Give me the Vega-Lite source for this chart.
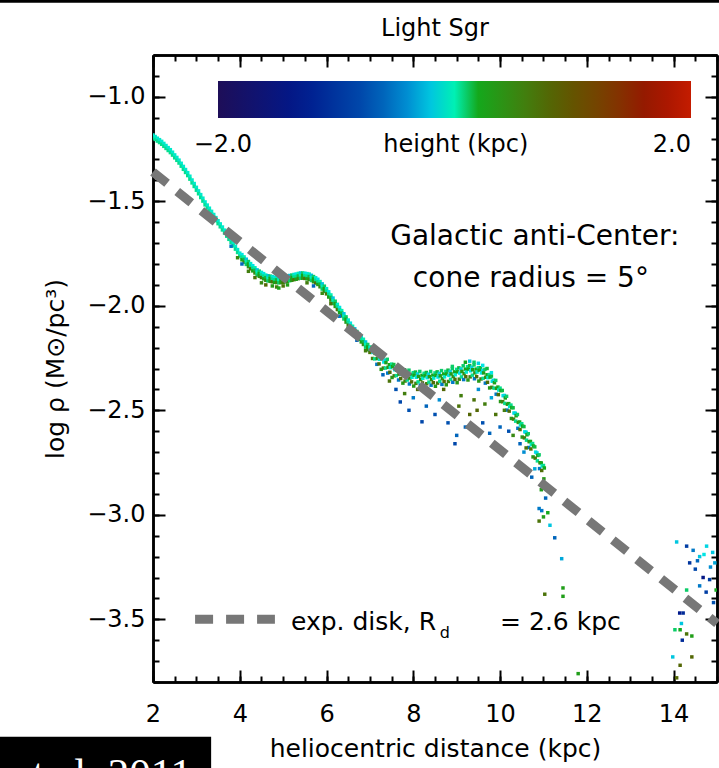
{
"$schema":"https://vega.github.io/schema/vega-lite/v6.json",
"width":564,"height":627,
"autosize":{"type":"none"},
"padding":{"left":153,"top":55,"right":2,"bottom":86},
"background":"white",
"config":{"view":{"stroke":null},"font":"DejaVu Sans",
"axis":{"domainColor":"black","domainWidth":2.5,"tickColor":"black","tickWidth":2,"labelColor":"black","labelFontSize":24,"titleColor":"black","titleFontSize":25,"titleFontWeight":"normal","grid":false,"labelFlush":false,"labelOverlap":false}},
"datasets":{
"disk":[{"x":2,"y":-1.36},{"x":15,"y":-3.52}],
"pts":[
{"x":2,"y":-1.183,"h":-0.05},{"x":2,"y":-1.197,"h":0.05},
{"x":2.05,"y":-1.19,"h":-0.05},{"x":2.05,"y":-1.204,"h":0.05},
{"x":2.1,"y":-1.198,"h":-0.05},{"x":2.1,"y":-1.212,"h":0.05},
{"x":2.15,"y":-1.205,"h":-0.05},{"x":2.15,"y":-1.219,"h":0.05},
{"x":2.2,"y":-1.213,"h":-0.05},{"x":2.2,"y":-1.227,"h":0.05},
{"x":2.25,"y":-1.223,"h":-0.05},{"x":2.25,"y":-1.237,"h":0.05},
{"x":2.3,"y":-1.233,"h":-0.05},{"x":2.3,"y":-1.247,"h":0.05},
{"x":2.35,"y":-1.243,"h":-0.05},{"x":2.35,"y":-1.257,"h":0.05},
{"x":2.4,"y":-1.253,"h":-0.05},{"x":2.4,"y":-1.267,"h":0.05},
{"x":2.45,"y":-1.265,"h":-0.05},{"x":2.45,"y":-1.279,"h":0.05},
{"x":2.5,"y":-1.278,"h":-0.05},{"x":2.5,"y":-1.292,"h":0.05},
{"x":2.55,"y":-1.29,"h":-0.05},{"x":2.55,"y":-1.304,"h":0.05},
{"x":2.6,"y":-1.303,"h":-0.05},{"x":2.6,"y":-1.317,"h":0.05},
{"x":2.65,"y":-1.318,"h":-0.05},{"x":2.65,"y":-1.332,"h":0.05},
{"x":2.7,"y":-1.333,"h":-0.05},{"x":2.7,"y":-1.347,"h":0.05},
{"x":2.75,"y":-1.348,"h":-0.05},{"x":2.75,"y":-1.362,"h":0.05},
{"x":2.8,"y":-1.363,"h":-0.05},{"x":2.8,"y":-1.377,"h":0.05},
{"x":2.85,"y":-1.38,"h":-0.05},{"x":2.85,"y":-1.394,"h":0.05},
{"x":2.9,"y":-1.398,"h":-0.05},{"x":2.9,"y":-1.412,"h":0.05},
{"x":2.95,"y":-1.415,"h":-0.05},{"x":2.95,"y":-1.429,"h":0.05},
{"x":3,"y":-1.433,"h":-0.05},{"x":3,"y":-1.447,"h":0.05},
{"x":3.05,"y":-1.45,"h":-0.05},{"x":3.05,"y":-1.464,"h":0.05},
{"x":3.1,"y":-1.468,"h":-0.05},{"x":3.1,"y":-1.482,"h":0.05},
{"x":3.15,"y":-1.485,"h":-0.05},{"x":3.15,"y":-1.499,"h":0.05},
{"x":3.2,"y":-1.503,"h":-0.05},{"x":3.2,"y":-1.517,"h":0.05},
{"x":3.25,"y":-1.518,"h":-0.05},{"x":3.25,"y":-1.532,"h":0.05},
{"x":3.3,"y":-1.533,"h":-0.05},{"x":3.3,"y":-1.547,"h":0.05},
{"x":3.35,"y":-1.548,"h":-0.05},{"x":3.35,"y":-1.562,"h":0.05},
{"x":3.4,"y":-1.563,"h":-0.05},{"x":3.4,"y":-1.577,"h":0.05},
{"x":3.45,"y":-1.578,"h":-0.05},{"x":3.45,"y":-1.592,"h":0.05},
{"x":3.5,"y":-1.593,"h":-0.05},{"x":3.5,"y":-1.607,"h":0.05},
{"x":3.55,"y":-1.608,"h":-0.05},{"x":3.55,"y":-1.622,"h":0.05},
{"x":3.6,"y":-1.623,"h":-0.05},{"x":3.6,"y":-1.637,"h":0.05},
{"x":3.65,"y":-1.638,"h":-0.05},{"x":3.65,"y":-1.652,"h":0.05},
{"x":3.7,"y":-1.653,"h":-0.05},{"x":3.7,"y":-1.667,"h":0.05},
{"x":3.75,"y":-1.668,"h":-0.05},{"x":3.75,"y":-1.682,"h":0.05},
{"x":3.8,"y":-1.683,"h":-0.05},{"x":3.8,"y":-1.697,"h":0.05},
{"x":3.85,"y":-1.699,"h":-0.05},{"x":3.85,"y":-1.713,"h":0.05},
{"x":3.9,"y":-1.715,"h":-0.05},{"x":3.9,"y":-1.729,"h":0.05},
{"x":3.95,"y":-1.731,"h":-0.05},{"x":3.95,"y":-1.745,"h":0.05},
{"x":4,"y":-1.748,"h":-0.05},{"x":4,"y":-1.762,"h":0.05},
{"x":4.05,"y":-1.755,"h":-0.1},{"x":4.05,"y":-1.767,"h":0.05},{"x":4.05,"y":-1.78,"h":0.25},
{"x":4.1,"y":-1.766,"h":0},{"x":4.1,"y":-1.778,"h":0.15},{"x":4.1,"y":-1.791,"h":0.5},
{"x":4.15,"y":-1.777,"h":-0.2},{"x":4.15,"y":-1.789,"h":0},{"x":4.15,"y":-1.802,"h":0.1},
{"x":4.2,"y":-1.788,"h":0.1},{"x":4.2,"y":-1.8,"h":0.2},{"x":4.2,"y":-1.813,"h":0.35},
{"x":4.25,"y":-1.798,"h":-0.05},{"x":4.25,"y":-1.81,"h":0.05},{"x":4.25,"y":-1.823,"h":0.7},
{"x":4.3,"y":-1.808,"h":-0.1},{"x":4.3,"y":-1.82,"h":0.05},{"x":4.3,"y":-1.833,"h":0.25},
{"x":4.35,"y":-1.818,"h":0},{"x":4.35,"y":-1.83,"h":0.15},{"x":4.35,"y":-1.843,"h":0.5},
{"x":4.4,"y":-1.828,"h":-0.2},{"x":4.4,"y":-1.84,"h":0},{"x":4.4,"y":-1.853,"h":0.1},
{"x":4.45,"y":-1.834,"h":0.1},{"x":4.45,"y":-1.846,"h":0.2},{"x":4.45,"y":-1.859,"h":0.35},
{"x":4.5,"y":-1.84,"h":-0.05},{"x":4.5,"y":-1.852,"h":0.05},{"x":4.5,"y":-1.865,"h":0.7},
{"x":4.55,"y":-1.846,"h":-0.1},{"x":4.55,"y":-1.858,"h":0.05},{"x":4.55,"y":-1.871,"h":0.25},
{"x":4.6,"y":-1.853,"h":0},{"x":4.6,"y":-1.865,"h":0.15},{"x":4.6,"y":-1.878,"h":0.5},
{"x":4.65,"y":-1.856,"h":-0.2},{"x":4.65,"y":-1.868,"h":0},{"x":4.65,"y":-1.881,"h":0.1},
{"x":4.7,"y":-1.858,"h":0.1},{"x":4.7,"y":-1.87,"h":0.2},{"x":4.7,"y":-1.883,"h":0.35},
{"x":4.75,"y":-1.86,"h":-0.05},{"x":4.75,"y":-1.872,"h":0.05},{"x":4.75,"y":-1.885,"h":0.7},
{"x":4.8,"y":-1.863,"h":-0.1},{"x":4.8,"y":-1.875,"h":0.05},{"x":4.8,"y":-1.888,"h":0.25},
{"x":4.85,"y":-1.864,"h":0},{"x":4.85,"y":-1.876,"h":0.15},{"x":4.85,"y":-1.889,"h":0.5},
{"x":4.9,"y":-1.865,"h":-0.2},{"x":4.9,"y":-1.877,"h":0},{"x":4.9,"y":-1.89,"h":0.1},
{"x":4.95,"y":-1.864,"h":0.1},{"x":4.95,"y":-1.876,"h":0.2},{"x":4.95,"y":-1.889,"h":0.35},
{"x":5,"y":-1.863,"h":-0.05},{"x":5,"y":-1.875,"h":0.05},{"x":5,"y":-1.888,"h":0.7},
{"x":5.05,"y":-1.86,"h":-0.1},{"x":5.05,"y":-1.872,"h":0.05},{"x":5.05,"y":-1.885,"h":0.25},
{"x":5.1,"y":-1.858,"h":0},{"x":5.1,"y":-1.87,"h":0.15},{"x":5.1,"y":-1.883,"h":0.5},
{"x":5.15,"y":-1.855,"h":-0.2},{"x":5.15,"y":-1.867,"h":0},{"x":5.15,"y":-1.88,"h":0.1},
{"x":5.2,"y":-1.853,"h":0.1},{"x":5.2,"y":-1.865,"h":0.2},{"x":5.2,"y":-1.878,"h":0.35},
{"x":5.25,"y":-1.85,"h":-0.05},{"x":5.25,"y":-1.862,"h":0.05},{"x":5.25,"y":-1.875,"h":0.7},
{"x":5.3,"y":-1.848,"h":-0.1},{"x":5.3,"y":-1.86,"h":0.05},{"x":5.3,"y":-1.873,"h":0.25},
{"x":5.35,"y":-1.845,"h":0},{"x":5.35,"y":-1.857,"h":0.15},{"x":5.35,"y":-1.87,"h":0.5},
{"x":5.4,"y":-1.843,"h":-0.2},{"x":5.4,"y":-1.855,"h":0},{"x":5.4,"y":-1.868,"h":0.1},
{"x":5.45,"y":-1.843,"h":0.1},{"x":5.45,"y":-1.855,"h":0.2},{"x":5.45,"y":-1.868,"h":0.35},
{"x":5.5,"y":-1.844,"h":-0.05},{"x":5.5,"y":-1.856,"h":0.05},{"x":5.5,"y":-1.869,"h":0.7},
{"x":5.55,"y":-1.846,"h":-0.1},{"x":5.55,"y":-1.858,"h":0.05},{"x":5.55,"y":-1.871,"h":0.25},
{"x":5.6,"y":-1.848,"h":0},{"x":5.6,"y":-1.86,"h":0.15},{"x":5.6,"y":-1.873,"h":0.5},
{"x":5.65,"y":-1.854,"h":-0.2},{"x":5.65,"y":-1.866,"h":0},{"x":5.65,"y":-1.879,"h":0.1},
{"x":5.7,"y":-1.86,"h":0.1},{"x":5.7,"y":-1.872,"h":0.2},{"x":5.7,"y":-1.885,"h":0.35},
{"x":5.75,"y":-1.866,"h":-0.05},{"x":5.75,"y":-1.878,"h":0.05},{"x":5.75,"y":-1.891,"h":0.7},
{"x":5.8,"y":-1.873,"h":-0.1},{"x":5.8,"y":-1.885,"h":0.05},{"x":5.8,"y":-1.898,"h":0.25},
{"x":5.85,"y":-1.884,"h":0},{"x":5.85,"y":-1.896,"h":0.15},{"x":5.85,"y":-1.909,"h":0.5},
{"x":5.9,"y":-1.895,"h":-0.2},{"x":5.9,"y":-1.907,"h":0},{"x":5.9,"y":-1.92,"h":0.1},
{"x":5.95,"y":-1.906,"h":0.1},{"x":5.95,"y":-1.918,"h":0.2},{"x":5.95,"y":-1.931,"h":0.35},
{"x":6,"y":-1.918,"h":-0.05},{"x":6,"y":-1.93,"h":0.05},{"x":6,"y":-1.943,"h":0.7},
{"x":6.05,"y":-1.933,"h":-0.1},{"x":6.05,"y":-1.945,"h":0.05},{"x":6.05,"y":-1.958,"h":0.25},
{"x":6.1,"y":-1.948,"h":0},{"x":6.1,"y":-1.96,"h":0.15},{"x":6.1,"y":-1.973,"h":0.5},
{"x":6.15,"y":-1.963,"h":-0.2},{"x":6.15,"y":-1.975,"h":0},{"x":6.15,"y":-1.988,"h":0.1},
{"x":6.2,"y":-1.978,"h":0.1},{"x":6.2,"y":-1.99,"h":0.2},{"x":6.2,"y":-2.003,"h":0.35},
{"x":6.25,"y":-1.993,"h":-0.05},{"x":6.25,"y":-2.005,"h":0.05},{"x":6.25,"y":-2.018,"h":0.7},
{"x":6.3,"y":-2.008,"h":-0.1},{"x":6.3,"y":-2.02,"h":0.05},{"x":6.3,"y":-2.033,"h":0.25},
{"x":6.35,"y":-2.023,"h":0},{"x":6.35,"y":-2.035,"h":0.15},{"x":6.35,"y":-2.048,"h":0.5},
{"x":6.4,"y":-2.038,"h":-0.2},{"x":6.4,"y":-2.05,"h":0},{"x":6.4,"y":-2.063,"h":0.1},
{"x":6.45,"y":-2.053,"h":0.1},{"x":6.45,"y":-2.065,"h":0.2},{"x":6.45,"y":-2.078,"h":0.35},
{"x":6.5,"y":-2.068,"h":-0.05},{"x":6.5,"y":-2.08,"h":0.05},{"x":6.5,"y":-2.093,"h":0.7},
{"x":6.55,"y":-2.083,"h":-0.1},{"x":6.55,"y":-2.095,"h":0.05},{"x":6.55,"y":-2.108,"h":0.25},
{"x":6.6,"y":-2.098,"h":0},{"x":6.6,"y":-2.11,"h":0.15},{"x":6.6,"y":-2.123,"h":0.5},
{"x":6.65,"y":-2.11,"h":-0.2},{"x":6.65,"y":-2.122,"h":0},{"x":6.65,"y":-2.135,"h":0.1},
{"x":6.7,"y":-2.123,"h":0.1},{"x":6.7,"y":-2.135,"h":0.2},{"x":6.7,"y":-2.148,"h":0.35},
{"x":6.75,"y":-2.135,"h":-0.05},{"x":6.75,"y":-2.147,"h":0.05},{"x":6.75,"y":-2.16,"h":0.7},
{"x":6.8,"y":-2.148,"h":-0.1},{"x":6.8,"y":-2.16,"h":0.05},{"x":6.8,"y":-2.173,"h":0.25},
{"x":6.85,"y":-2.16,"h":0},{"x":6.85,"y":-2.172,"h":0.15},{"x":6.85,"y":-2.185,"h":0.5},
{"x":6.9,"y":-2.173,"h":-0.2},{"x":6.9,"y":-2.185,"h":0},{"x":6.9,"y":-2.198,"h":0.1},
{"x":6.95,"y":-2.185,"h":0.1},{"x":6.95,"y":-2.197,"h":0.2},{"x":6.95,"y":-2.21,"h":0.35},
{"x":7,"y":-2.198,"h":-0.05},{"x":7,"y":-2.21,"h":0.05},{"x":7,"y":-2.223,"h":0.7},
{"x":4.2,"y":-1.835,"h":0.6},{"x":4.35,"y":-1.865,"h":0.7},{"x":4.5,"y":-1.89,"h":0.5},{"x":4.6,"y":-1.9,"h":0.8},{"x":4.75,"y":-1.905,"h":0.35},{"x":4.85,"y":-1.91,"h":0.6},{"x":5,"y":-1.905,"h":0.7},{"x":5.1,"y":-1.9,"h":0.3},{"x":4.9,"y":-1.915,"h":0.25},{"x":5.55,"y":-1.89,"h":0.6},{"x":5.7,"y":-1.905,"h":-0.6},{"x":5.9,"y":-1.94,"h":0.5},{"x":6.1,"y":-1.99,"h":0.7},{"x":6.3,"y":-2.05,"h":-0.5},{"x":6.5,"y":-2.11,"h":0.5},{"x":6.7,"y":-2.165,"h":-0.6},{"x":6.9,"y":-2.215,"h":0.6},{"x":3.8,"y":-1.715,"h":-0.5},{"x":3.95,"y":-1.77,"h":0.5},{"x":4.05,"y":-1.8,"h":-0.6},
{"x":7.05,"y":-2.198,"h":0.15},{"x":7.07,"y":-2.223,"h":-0.1},{"x":7.06,"y":-2.252,"h":0.6},
{"x":7.1,"y":-2.216,"h":-0.15},{"x":7.12,"y":-2.228,"h":0.3},{"x":7.11,"y":-2.254,"h":0.05},
{"x":7.15,"y":-2.214,"h":0.1},{"x":7.17,"y":-2.252,"h":0.45},{"x":7.16,"y":-2.28,"h":-0.5},
{"x":7.2,"y":-2.242,"h":0.2},{"x":7.22,"y":-2.256,"h":-0.05},{"x":7.21,"y":-2.278,"h":0.75},
{"x":7.25,"y":-2.24,"h":0.05},{"x":7.27,"y":-2.252,"h":0.2},{"x":7.26,"y":-2.304,"h":0.35},
{"x":7.3,"y":-2.244,"h":0.15},{"x":7.32,"y":-2.269,"h":-0.1},{"x":7.31,"y":-2.298,"h":0.6},
{"x":7.35,"y":-2.26,"h":-0.15},{"x":7.37,"y":-2.272,"h":0.3},{"x":7.36,"y":-2.298,"h":0.05},
{"x":7.4,"y":-2.256,"h":0.1},{"x":7.42,"y":-2.294,"h":0.45},{"x":7.41,"y":-2.322,"h":-0.5},
{"x":7.45,"y":-2.282,"h":0.2},{"x":7.47,"y":-2.296,"h":-0.05},{"x":7.46,"y":-2.318,"h":0.75},
{"x":7.5,"y":-2.279,"h":0.05},{"x":7.52,"y":-2.291,"h":0.2},{"x":7.51,"y":-2.343,"h":0.35},
{"x":7.55,"y":-2.281,"h":0.15},{"x":7.57,"y":-2.306,"h":-0.1},{"x":7.56,"y":-2.335,"h":0.6},
{"x":7.6,"y":-2.296,"h":-0.15},{"x":7.62,"y":-2.308,"h":0.3},{"x":7.61,"y":-2.334,"h":0.05},
{"x":7.65,"y":-2.289,"h":0.1},{"x":7.67,"y":-2.327,"h":0.45},{"x":7.66,"y":-2.355,"h":-0.5},
{"x":7.7,"y":-2.312,"h":0.2},{"x":7.72,"y":-2.326,"h":-0.05},{"x":7.71,"y":-2.348,"h":0.75},
{"x":7.75,"y":-2.306,"h":0.05},{"x":7.77,"y":-2.318,"h":0.2},{"x":7.76,"y":-2.37,"h":0.35},
{"x":7.8,"y":-2.306,"h":0.15},{"x":7.82,"y":-2.331,"h":-0.1},{"x":7.81,"y":-2.36,"h":0.6},
{"x":7.85,"y":-2.317,"h":-0.15},{"x":7.87,"y":-2.329,"h":0.3},{"x":7.86,"y":-2.355,"h":0.05},
{"x":7.9,"y":-2.308,"h":0.1},{"x":7.92,"y":-2.346,"h":0.45},{"x":7.91,"y":-2.374,"h":-0.5},
{"x":7.95,"y":-2.328,"h":0.2},{"x":7.97,"y":-2.342,"h":-0.05},{"x":7.96,"y":-2.364,"h":0.75},
{"x":8,"y":-2.32,"h":0.05},{"x":8.02,"y":-2.332,"h":0.2},{"x":8.01,"y":-2.384,"h":0.35},
{"x":8.05,"y":-2.317,"h":0.15},{"x":8.07,"y":-2.342,"h":-0.1},{"x":8.06,"y":-2.371,"h":0.6},
{"x":8.1,"y":-2.326,"h":-0.15},{"x":8.12,"y":-2.338,"h":0.3},{"x":8.11,"y":-2.364,"h":0.05},
{"x":8.15,"y":-2.314,"h":0.1},{"x":8.17,"y":-2.352,"h":0.45},{"x":8.16,"y":-2.38,"h":-0.5},
{"x":8.2,"y":-2.333,"h":0.2},{"x":8.22,"y":-2.347,"h":-0.05},{"x":8.21,"y":-2.369,"h":0.75},
{"x":8.25,"y":-2.323,"h":0.05},{"x":8.27,"y":-2.335,"h":0.2},{"x":8.26,"y":-2.387,"h":0.35},
{"x":8.3,"y":-2.319,"h":0.15},{"x":8.32,"y":-2.344,"h":-0.1},{"x":8.31,"y":-2.373,"h":0.6},
{"x":8.35,"y":-2.327,"h":-0.15},{"x":8.37,"y":-2.339,"h":0.3},{"x":8.36,"y":-2.365,"h":0.05},
{"x":8.4,"y":-2.314,"h":0.1},{"x":8.42,"y":-2.352,"h":0.45},{"x":8.41,"y":-2.38,"h":-0.5},
{"x":8.45,"y":-2.332,"h":0.2},{"x":8.47,"y":-2.346,"h":-0.05},{"x":8.46,"y":-2.368,"h":0.75},
{"x":8.5,"y":-2.321,"h":0.05},{"x":8.52,"y":-2.333,"h":0.2},{"x":8.51,"y":-2.385,"h":0.35},
{"x":8.55,"y":-2.316,"h":0.15},{"x":8.57,"y":-2.341,"h":-0.1},{"x":8.56,"y":-2.37,"h":0.6},
{"x":8.6,"y":-2.323,"h":-0.15},{"x":8.62,"y":-2.335,"h":0.3},{"x":8.61,"y":-2.361,"h":0.05},
{"x":8.65,"y":-2.31,"h":0.1},{"x":8.67,"y":-2.348,"h":0.45},{"x":8.66,"y":-2.376,"h":-0.5},
{"x":8.7,"y":-2.326,"h":0.2},{"x":8.72,"y":-2.34,"h":-0.05},{"x":8.71,"y":-2.362,"h":0.75},
{"x":8.75,"y":-2.314,"h":0.05},{"x":8.77,"y":-2.326,"h":0.2},{"x":8.76,"y":-2.378,"h":0.35},
{"x":8.8,"y":-2.308,"h":0.15},{"x":8.82,"y":-2.333,"h":-0.1},{"x":8.81,"y":-2.362,"h":0.6},
{"x":8.85,"y":-2.314,"h":-0.15},{"x":8.87,"y":-2.326,"h":0.3},{"x":8.86,"y":-2.352,"h":0.05},
{"x":8.9,"y":-2.3,"h":0.1},{"x":8.92,"y":-2.338,"h":0.45},{"x":8.91,"y":-2.366,"h":-0.5},
{"x":8.95,"y":-2.316,"h":0.2},{"x":8.97,"y":-2.33,"h":-0.05},{"x":8.96,"y":-2.352,"h":0.75},
{"x":9,"y":-2.304,"h":0.05},{"x":9.02,"y":-2.316,"h":0.2},{"x":9.01,"y":-2.368,"h":0.35},
{"x":9.05,"y":-2.297,"h":0.15},{"x":9.07,"y":-2.322,"h":-0.1},{"x":9.06,"y":-2.351,"h":0.6},
{"x":9.1,"y":-2.302,"h":-0.15},{"x":9.12,"y":-2.314,"h":0.3},{"x":9.11,"y":-2.34,"h":0.05},
{"x":9.15,"y":-2.287,"h":0.1},{"x":9.17,"y":-2.325,"h":0.45},{"x":9.16,"y":-2.353,"h":-0.5},
{"x":9.2,"y":-2.303,"h":0.2},{"x":9.22,"y":-2.317,"h":-0.05},{"x":9.21,"y":-2.339,"h":0.75},
{"x":9.25,"y":-2.291,"h":0.05},{"x":9.27,"y":-2.303,"h":0.2},{"x":9.26,"y":-2.355,"h":0.35},
{"x":9.3,"y":-2.286,"h":0.15},{"x":9.32,"y":-2.311,"h":-0.1},{"x":9.31,"y":-2.34,"h":0.6},
{"x":9.35,"y":-2.294,"h":-0.15},{"x":9.37,"y":-2.306,"h":0.3},{"x":9.36,"y":-2.332,"h":0.05},
{"x":9.4,"y":-2.283,"h":0.1},{"x":9.42,"y":-2.321,"h":0.45},{"x":9.41,"y":-2.349,"h":-0.5},
{"x":9.45,"y":-2.303,"h":0.2},{"x":9.47,"y":-2.317,"h":-0.05},{"x":9.46,"y":-2.339,"h":0.75},
{"x":9.5,"y":-2.296,"h":0.05},{"x":9.52,"y":-2.308,"h":0.2},{"x":9.51,"y":-2.36,"h":0.35},
{"x":9.55,"y":-2.296,"h":0.15},{"x":9.57,"y":-2.321,"h":-0.1},{"x":9.56,"y":-2.35,"h":0.6},
{"x":9.6,"y":-2.309,"h":-0.15},{"x":9.62,"y":-2.321,"h":0.3},{"x":9.61,"y":-2.347,"h":0.05},
{"x":9.65,"y":-2.304,"h":0.1},{"x":9.67,"y":-2.342,"h":0.45},{"x":9.66,"y":-2.37,"h":-0.5},
{"x":9.7,"y":-2.33,"h":0.2},{"x":9.72,"y":-2.344,"h":-0.05},{"x":9.71,"y":-2.366,"h":0.75},
{"x":9.75,"y":-2.329,"h":0.05},{"x":9.77,"y":-2.341,"h":0.2},{"x":9.76,"y":-2.393,"h":0.35},
{"x":9.8,"y":-2.336,"h":0.15},{"x":9.82,"y":-2.361,"h":-0.1},{"x":9.81,"y":-2.39,"h":0.6},
{"x":9.85,"y":-2.356,"h":-0.15},{"x":9.87,"y":-2.368,"h":0.3},{"x":9.86,"y":-2.394,"h":0.05},
{"x":9.9,"y":-2.357,"h":0.1},{"x":9.92,"y":-2.395,"h":0.45},{"x":9.91,"y":-2.423,"h":-0.5},
{"x":9.95,"y":-2.389,"h":0.2},{"x":9.97,"y":-2.403,"h":-0.05},{"x":9.96,"y":-2.425,"h":0.75},
{"x":10,"y":-2.394,"h":0.05},{"x":10.02,"y":-2.406,"h":0.2},{"x":10.01,"y":-2.458,"h":0.35},
{"x":10.05,"y":-2.405,"h":0.15},{"x":10.07,"y":-2.43,"h":-0.1},{"x":10.06,"y":-2.459,"h":0.6},
{"x":10.1,"y":-2.429,"h":-0.15},{"x":10.12,"y":-2.441,"h":0.3},{"x":10.11,"y":-2.467,"h":0.05},
{"x":10.15,"y":-2.433,"h":0.1},{"x":10.17,"y":-2.471,"h":0.45},{"x":10.16,"y":-2.499,"h":-0.5},
{"x":10.2,"y":-2.468,"h":0.2},{"x":10.22,"y":-2.482,"h":-0.05},{"x":10.21,"y":-2.504,"h":0.75},
{"x":10.25,"y":-2.475,"h":0.05},{"x":10.27,"y":-2.487,"h":0.2},{"x":10.26,"y":-2.539,"h":0.35},
{"x":10.3,"y":-2.488,"h":0.15},{"x":10.32,"y":-2.513,"h":-0.1},{"x":10.31,"y":-2.542,"h":0.6},
{"x":10.35,"y":-2.514,"h":-0.15},{"x":10.37,"y":-2.526,"h":0.3},{"x":10.36,"y":-2.552,"h":0.05},
{"x":10.4,"y":-2.52,"h":0.1},{"x":10.42,"y":-2.558,"h":0.45},{"x":10.41,"y":-2.586,"h":-0.5},
{"x":10.45,"y":-2.556,"h":0.2},{"x":10.47,"y":-2.57,"h":-0.05},{"x":10.46,"y":-2.592,"h":0.75},
{"x":10.5,"y":-2.564,"h":0.05},{"x":10.52,"y":-2.576,"h":0.2},{"x":10.51,"y":-2.628,"h":0.35},
{"x":10.55,"y":-2.578,"h":0.15},{"x":10.57,"y":-2.603,"h":-0.1},{"x":10.56,"y":-2.632,"h":0.6},
{"x":10.6,"y":-2.605,"h":-0.15},{"x":10.62,"y":-2.617,"h":0.3},{"x":10.61,"y":-2.643,"h":0.05},
{"x":10.65,"y":-2.612,"h":0.1},{"x":10.67,"y":-2.65,"h":0.45},{"x":10.66,"y":-2.678,"h":-0.5},
{"x":10.7,"y":-2.649,"h":0.2},{"x":10.72,"y":-2.663,"h":-0.05},{"x":10.71,"y":-2.685,"h":0.75},
{"x":10.75,"y":-2.659,"h":0.05},{"x":10.77,"y":-2.671,"h":0.2},{"x":10.76,"y":-2.723,"h":0.35},
{"x":10.8,"y":-2.675,"h":0.15},{"x":10.82,"y":-2.7,"h":-0.1},{"x":10.81,"y":-2.729,"h":0.6},
{"x":10.85,"y":-2.704,"h":-0.15},{"x":10.87,"y":-2.716,"h":0.3},{"x":10.86,"y":-2.742,"h":0.05},
{"x":10.9,"y":-2.713,"h":0.1},{"x":10.92,"y":-2.751,"h":0.45},{"x":10.91,"y":-2.779,"h":-0.5},
{"x":10.95,"y":-2.752,"h":0.2},{"x":10.97,"y":-2.766,"h":-0.05},{"x":10.96,"y":-2.788,"h":0.75},
{"x":11,"y":-2.764,"h":0.05},{"x":11.02,"y":-2.776,"h":0.2},{"x":11.01,"y":-2.828,"h":0.35},
{"x":7.3,"y":-2.33,"h":-0.6},{"x":7.45,"y":-2.36,"h":0.7},{"x":7.6,"y":-2.4,"h":-0.7},{"x":7.7,"y":-2.46,"h":-0.8},{"x":7.8,"y":-2.42,"h":0.6},{"x":7.9,"y":-2.5,"h":-0.7},{"x":8,"y":-2.44,"h":-0.5},{"x":8.1,"y":-2.4,"h":0.8},{"x":8.2,"y":-2.555,"h":-0.8},{"x":8.3,"y":-2.48,"h":-0.6},{"x":8.4,"y":-2.42,"h":0.7},{"x":8.5,"y":-2.52,"h":-0.7},{"x":8.6,"y":-2.45,"h":-0.4},{"x":8.7,"y":-2.4,"h":0.8},{"x":8.8,"y":-2.56,"h":-0.7},{"x":8.96,"y":-2.66,"h":-0.8},{"x":9,"y":-2.62,"h":-0.6},{"x":9.05,"y":-2.48,"h":0.7},{"x":9.1,"y":-2.43,"h":0.6},{"x":9.2,"y":-2.58,"h":-0.6},{"x":9.3,"y":-2.52,"h":0.8},{"x":9.4,"y":-2.45,"h":0.7},{"x":9.47,"y":-2.5,"h":0.8},{"x":9.5,"y":-2.4,"h":-0.4},{"x":9.6,"y":-2.56,"h":-0.7},{"x":9.65,"y":-2.47,"h":0.6},{"x":9.76,"y":-2.61,"h":-0.6},{"x":9.8,"y":-2.44,"h":-0.3},{"x":9.9,"y":-2.52,"h":0.7},{"x":10,"y":-2.58,"h":-0.6},{"x":10.1,"y":-2.5,"h":0.6},{"x":10.2,"y":-2.6,"h":-0.7},{"x":10.3,"y":-2.62,"h":0.5},{"x":10.46,"y":-2.66,"h":-0.6},{"x":10.55,"y":-2.7,"h":-0.4},{"x":10.6,"y":-2.68,"h":0.7},{"x":10.73,"y":-2.82,"h":-0.6},{"x":10.8,"y":-2.78,"h":-0.3},{"x":10.9,"y":-2.97,"h":-0.5},{"x":10.95,"y":-2.88,"h":0.3},
{"x":9.3,"y":-2.265,"h":-0.2},{"x":9.4,"y":-2.27,"h":0.1},{"x":9.5,"y":-2.275,"h":-0.15},{"x":9.2,"y":-2.27,"h":0.2},{"x":8.9,"y":-2.29,"h":0.1},{"x":9.6,"y":-2.285,"h":-0.1},{"x":9.7,"y":-2.3,"h":0.15},{"x":9.8,"y":-2.32,"h":-0.1},
{"x":10.96,"y":-2.98,"h":-0.5},{"x":10.9,"y":-3.03,"h":0.7},{"x":11,"y":-3.01,"h":0.3},{"x":11.1,"y":-2.99,"h":0.2},{"x":11.26,"y":-3.11,"h":-0.6},{"x":11.42,"y":-3.21,"h":-0.3},{"x":11.03,"y":-3.38,"h":0.7},{"x":11.45,"y":-3.35,"h":0.3},{"x":11.45,"y":-3.39,"h":0.3},{"x":11.8,"y":-3.76,"h":0.3},{"x":11.05,"y":-2.92,"h":-0.6},{"x":11.15,"y":-3.05,"h":-0.2},
{"x":14.07,"y":-3.13,"h":-0.2},{"x":14.3,"y":-3.15,"h":-0.9},{"x":14.45,"y":-3.17,"h":-0.5},{"x":14.6,"y":-3.2,"h":-0.2},{"x":14.76,"y":-3.15,"h":-0.15},{"x":14.9,"y":-3.18,"h":-0.2},{"x":14.37,"y":-3.23,"h":-1},{"x":14.5,"y":-3.26,"h":-0.8},{"x":14.68,"y":-3.3,"h":-1.4},{"x":14.83,"y":-3.31,"h":-0.9},{"x":14.95,"y":-3.23,"h":-0.3},{"x":14.6,"y":-3.34,"h":-0.5},{"x":14.3,"y":-3.36,"h":0.1},{"x":14.75,"y":-3.37,"h":-0.9},{"x":14.98,"y":-3.36,"h":0.2},{"x":14.14,"y":-3.47,"h":-1.3},{"x":14.22,"y":-3.47,"h":-1.1},{"x":14.18,"y":-3.52,"h":-0.2},{"x":14.03,"y":-3.55,"h":0.1},{"x":14.15,"y":-3.55,"h":0.2},{"x":14.3,"y":-3.57,"h":0.7},{"x":14.42,"y":-3.58,"h":0.3},{"x":14.2,"y":-3.6,"h":-1.1},{"x":13.98,"y":-3.68,"h":-0.2},{"x":14.42,"y":-3.68,"h":0.8},{"x":14.15,"y":-3.72,"h":0.8},{"x":14.07,"y":-3.78,"h":0.8},{"x":14.55,"y":-3.22,"h":-0.6},{"x":14.85,"y":-3.25,"h":-0.4},{"x":14.92,"y":-3.42,"h":-0.7},{"x":14.7,"y":-3.19,"h":-0.1}
]},
"layer":[
{"data":{"name":"pts"},
"mark":{"type":"square","size":12,"opacity":1,"clip":true},
"encoding":{
"x":{"field":"x","type":"quantitative","scale":{"domain":[2,15],"nice":false,"zero":false},
"axis":{"orient":"bottom","values":[2,4,6,8,10,12,14],"format":"d","tickSize":-12,"labelPadding":32,"title":"heliocentric distance (kpc)","titlePadding":10}},
"y":{"field":"y","type":"quantitative","scale":{"domain":[-3.8,-0.8],"nice":false,"zero":false},
"axis":{"orient":"left","values":[-3.5,-3,-2.5,-2,-1.5,-1],"format":".1f","tickSize":-12,"labelPadding":20,"title":"log ρ (M⊙/pc³)","titlePadding":18}},
"color":{"field":"h","type":"quantitative",
"scale":{"type":"linear","domain":[-2,-1.3,-0.7,-0.35,-0.1,0,0.2,0.55,0.9,1.3,1.65,2],"range":["#1e0e58","#00198c","#0050b0","#0098d8","#00e4e4","#00f0b4","#14a81c","#3e8410","#5c5c00","#7c3c00","#981400","#c41c00"],"interpolate":"rgb"},
"legend":{"orient":"none","legendX":65,"legendY":26,"direction":"horizontal","gradientLength":473,"gradientThickness":37,"gradientStrokeWidth":0,"values":[-2,2],"labelExpr":"''","title":null,"padding":0,"offset":0}}}},
{"data":{"name":"disk"},
"mark":{"type":"line","color":"#777777","strokeWidth":9,"strokeDash":[18,13],"strokeCap":"butt"},
"encoding":{
"x":{"field":"x","type":"quantitative","axis":{"orient":"top","values":[2,4,6,8,10,12,14],"tickSize":-12,"labels":false,"title":null}},
"y":{"field":"y","type":"quantitative","axis":{"orient":"right","values":[-3.5,-3,-2.5,-2,-1.5,-1],"tickSize":-12,"labels":false,"title":null}}}},
{"data":{"values":[{}]},
"mark":{"type":"rule","color":"#777777","strokeWidth":9,"strokeDash":[18,13],"strokeCap":"butt"},
"encoding":{"x":{"datum":2.97,"type":"quantitative","axis":{"orient":"bottom","values":[2,2.5,3,3.5,4,4.5,5,5.5,6,6.5,7,7.5,8,8.5,9,9.5,10,10.5,11,11.5,12,12.5,13,13.5,14,14.5,15],"tickSize":-6,"labels":false,"title":null}},"x2":{"datum":4.81},"y":{"datum":-3.5,"type":"quantitative","axis":{"orient":"left","values":[-3.8,-3.7,-3.6,-3.5,-3.4,-3.3,-3.2,-3.1,-3,-2.9,-2.8,-2.7,-2.6,-2.5,-2.4,-2.3,-2.2,-2.1,-2,-1.9,-1.8,-1.7,-1.6,-1.5,-1.4,-1.3,-1.2,-1.1,-1,-0.9,-0.8],"tickSize":-6,"labels":false,"title":null}}}},
{"data":{"values":[{}]},
"mark":{"type":"text","text":"exp. disk, R","fontSize":25,"align":"left","baseline":"alphabetic","color":"black"},
"encoding":{"x":{"datum":5.18,"type":"quantitative","axis":{"orient":"top","values":[2,2.5,3,3.5,4,4.5,5,5.5,6,6.5,7,7.5,8,8.5,9,9.5,10,10.5,11,11.5,12,12.5,13,13.5,14,14.5,15],"tickSize":-6,"labels":false,"title":null}},"y":{"datum":-3.55,"type":"quantitative","axis":{"orient":"right","values":[-3.8,-3.7,-3.6,-3.5,-3.4,-3.3,-3.2,-3.1,-3,-2.9,-2.8,-2.7,-2.6,-2.5,-2.4,-2.3,-2.2,-2.1,-2,-1.9,-1.8,-1.7,-1.6,-1.5,-1.4,-1.3,-1.2,-1.1,-1,-0.9,-0.8],"tickSize":-6,"labels":false,"title":null}}}},
{"data":{"values":[{}]},
"mark":{"type":"text","text":"d","fontSize":16,"align":"left","baseline":"alphabetic","color":"black"},
"encoding":{"x":{"datum":8.61,"type":"quantitative","axis":null},"y":{"datum":-3.59,"type":"quantitative","axis":null}}},
{"data":{"values":[{}]},
"mark":{"type":"text","text":"= 2.6 kpc","fontSize":25,"align":"left","baseline":"alphabetic","color":"black"},
"encoding":{"x":{"datum":10.0,"type":"quantitative","axis":null},"y":{"datum":-3.55,"type":"quantitative","axis":null}}},
{"data":{"values":[{}]},
"mark":{"type":"text","text":"Galactic anti-Center:","fontSize":28,"align":"center","baseline":"alphabetic","color":"black"},
"encoding":{"x":{"datum":10.8,"type":"quantitative","axis":null},"y":{"datum":-1.708,"type":"quantitative","axis":null}}},
{"data":{"values":[{}]},
"mark":{"type":"text","text":"cone radius = 5°","fontSize":28,"align":"center","baseline":"alphabetic","color":"black"},
"encoding":{"x":{"datum":10.71,"type":"quantitative","axis":null},"y":{"datum":-1.909,"type":"quantitative","axis":null}}},
{"data":{"values":[{}]},
"mark":{"type":"text","text":"height (kpc)","fontSize":24,"align":"center","baseline":"alphabetic","color":"black"},
"encoding":{"x":{"datum":8.98,"type":"quantitative","axis":null},"y":{"datum":-1.263,"type":"quantitative","axis":null}}},
{"data":{"values":[{}]},
"mark":{"type":"text","text":"−2.0","fontSize":24,"align":"center","baseline":"alphabetic","color":"black"},
"encoding":{"x":{"datum":3.61,"type":"quantitative","axis":null},"y":{"datum":-1.263,"type":"quantitative","axis":null}}},
{"data":{"values":[{}]},
"mark":{"type":"text","text":"2.0","fontSize":24,"align":"right","baseline":"alphabetic","color":"black"},
"encoding":{"x":{"datum":14.4,"type":"quantitative","axis":null},"y":{"datum":-1.263,"type":"quantitative","axis":null}}},
{"data":{"values":[{}]},
"mark":{"type":"text","text":"Light Sgr","fontSize":24,"align":"center","baseline":"alphabetic","color":"black"},
"encoding":{"x":{"datum":8.5,"type":"quantitative","axis":null},"y":{"datum":-0.71,"type":"quantitative","axis":null}}},
{"data":{"values":[{}]},
"mark":{"type":"rect","color":"black"},
"encoding":{"x":{"datum":-1.6,"type":"quantitative","axis":null},"x2":{"datum":3.34},"y":{"datum":-4.062,"type":"quantitative","axis":null},"y2":{"datum":-4.4}}},
{"data":{"values":[{}]},
"mark":{"type":"text","text":"et al. 2011","fontSize":43,"font":"Liberation Serif","align":"right","baseline":"alphabetic","color":"white"},
"encoding":{"x":{"datum":2.9,"type":"quantitative","axis":null},"y":{"datum":-4.306,"type":"quantitative","axis":null}}},
{"data":{"values":[{}]},
"mark":{"type":"rect","color":"black"},
"encoding":{"x":{"datum":-1.6,"type":"quantitative","axis":null},"x2":{"datum":15.1},"y":{"datum":-0.53,"type":"quantitative","axis":null},"y2":{"datum":-0.55}}}
],
"resolve":{"axis":{"x":"independent","y":"independent"}}
}
